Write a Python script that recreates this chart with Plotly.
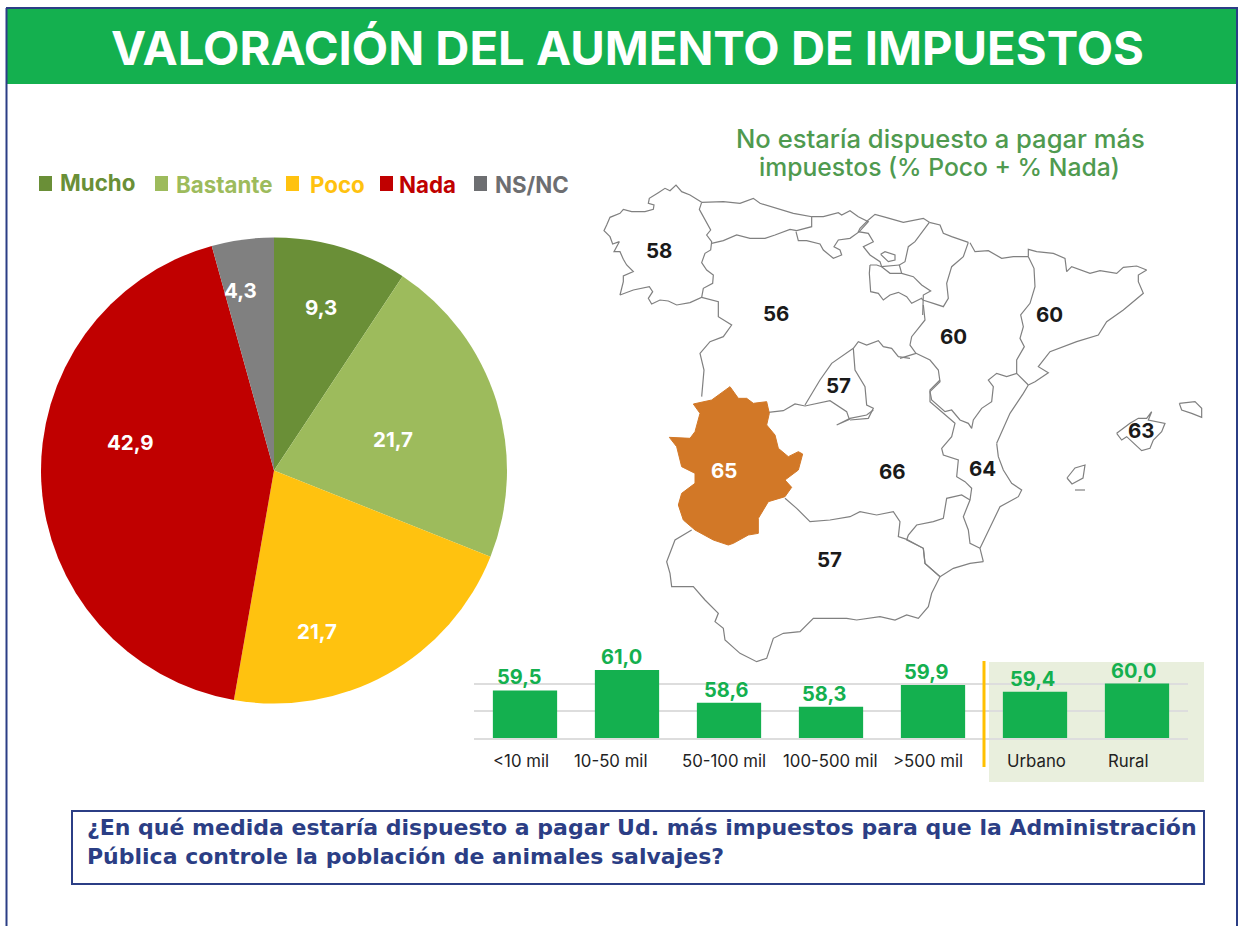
import plotly.graph_objects as go

# ---------- data ----------
pie_labels = ["Mucho", "Bastante", "Poco", "Nada", "NS/NC"]
pie_values = [9.3, 21.7, 21.7, 42.9, 4.3]
pie_text = ["9,3", "21,7", "21,7", "42,9", "4,3"]
pie_colors = ["#6A8F37", "#9DBB5C", "#FFC20F", "#C00000", "#808080"]
legend_colors = ["#6A8F37", "#9DBB5C", "#FFC20F", "#C00000", "#6D6E71"]

bar_categories = ["<10 mil", "10-50 mil", "50-100 mil", "100-500 mil", ">500 mil", "Urbano", "Rural"]
bar_values = [59.5, 61.0, 58.6, 58.3, 59.9, 59.4, 60.0]
bar_text = ["59,5", "61,0", "58,6", "58,3", "59,9", "59,4", "60,0"]

region_values = ["58", "56", "60", "60", "57", "63", "65", "66", "64", "57"]

# hand-traced map outlines, in crop frames of the picture
Z1 = (590, 170)
Z2 = (890, 210)
Z3 = (650, 380)
Z4 = (840, 205)
galicia = [(335,97),(300,75),(275,65),(258,45),(240,62),(225,55),(205,68),(178,85),(175,100),(192,105),(190,118),(165,125),(125,125),(100,118),(90,130),(60,142),(50,165),(42,182),(60,200),(68,222),(88,215),(72,245),(90,245),(100,268),(110,285),(130,305),(100,318),(100,335),(90,375),(130,360),(178,350),(188,365),(175,385),(185,402),(210,390),(235,393),(260,405),(300,398),(335,382),(340,355),(368,340),(370,315),(350,300),(335,278),(345,250),(362,240),(365,215),(350,195),(362,180),(345,150),(328,118),(335,97)]
asturias = [(335,97),(400,95),(450,100),(490,85),(510,100),(570,118),(610,130),(665,140),(665,170),(620,182),(600,178),(555,195),(525,205),(480,205),(440,195),(400,212),(365,220)]
cantabria = [(665,140),(700,140),(745,128),(755,135),(780,122),(805,140),(835,155),(815,175),(808,185),(780,205),(745,210),(732,230),(750,240),(755,255),(730,265),(700,240),(690,222),(650,212),(625,212),(618,185)]
cyl_port = [(335,382),(385,395),(385,440),(425,465),(400,500),(360,515),(330,550),(342,600),(335,680)]
madrid_a = [(645,705),(690,630),(725,580),(790,535),(795,600),(825,650),(830,705),(850,715),(835,745),(780,750)]
cyl_clm = [(790,535),(805,515),(830,525),(865,512),(880,530),(905,535),(925,560),(960,565)]

vasco_n = [(85,45),(105,28),(140,38),(190,52),(250,40),(268,52)]
navarra_n = [(268,52),(300,60),(310,85),(335,95),(385,112)]
navarra_e = [(385,112),(370,155),(335,185),(320,235),(325,280),(310,305),(280,295),(248,285)]
navarra_w = [(268,52),(225,110),(205,125),(195,170),(178,180),(185,205)]
vasco_s = [(85,45),(60,70),(55,80),(85,85),(100,110),(70,125),(90,150),(120,170),(125,185),(178,180)]
trevino = [(122,148),(135,140),(165,150),(165,165),(145,170),(122,148)]
rioja_n = [(90,180),(110,180),(125,185),(150,205),(185,205),(220,215),(245,240),(272,258),(250,270),(248,330)]
rioja_s = [(90,180),(88,205),(92,260),(115,265),(130,285),(150,270),(175,262),(200,275),(215,295),(245,280),(248,285)]

aragon_w = [(100,285),(105,330),(85,355),(65,380),(60,405),(78,430),(30,445)]
aragon_n = [(240,98),(255,125),(295,122),(335,145),(370,140),(415,140)]
aragon_e = [(415,140),(432,175),(435,230),(420,280),(392,315),(400,350),(390,385),(403,410),(380,450),(380,490)]
aragon_s = [(415,525),(380,490),(350,500),(320,490),(295,510),(310,530),(305,575),(275,595),(250,630),(245,655),(235,640),(210,630),(185,600),(165,605),(125,570),(120,545),(150,515),(145,480),(120,450),(78,430)]
catalunya = [(415,140),(415,118),(440,125),(490,130),(525,145),(530,185),(545,170),(600,190),(630,182),(680,190),(700,172),(740,168),(770,180),(745,195),(745,215),(760,250),(700,300),(650,335),(625,375),(560,395),(480,425),(445,470),(475,488),(435,515),(415,525)]
mallorca = [(680,670),(720,640),(745,625),(770,625),(785,605),(775,630),(825,640),(815,665),(790,690),(780,715),(755,722),(730,700),(710,680),(695,690),(680,670)]
menorca = [(868,580),(915,575),(935,595),(935,622),(905,610),(875,600),(868,580)]

valencia_e = [(1040,190),(1045,230),(1060,270),(1085,310),(1115,330),(1105,350),(1050,380),(1025,430),(1000,480),(990,505),(1000,545)]
valencia_c = [(1135,15),(1120,40),(1080,100),(1040,190)]
valencia_w = [(870,0),(840,30),(840,65),(885,105),(915,130),(905,170),(875,205),(880,225),(925,240),(920,290),(945,305),(965,325),(960,360),(940,410),(955,450),(960,490),(990,505)]
murcia = [(960,360),(935,345),(890,355),(880,415),(850,425),(800,435),(775,465),(770,480),(820,505),(825,550),(870,590),(910,565),(960,550),(1000,545)]
andalucia = [(405,355),(440,385),(480,425),(540,420),(600,410),(630,395),(680,405),(730,395),(750,425),(745,470),(770,478),(820,505),(825,550),(870,590),(845,640),(835,680),(805,715),(770,705),(735,720),(690,710),(620,720),(590,715),(525,715),(490,715),(450,755),(400,760),(370,775),(350,835),(320,845),(270,820),(225,780),(220,745),(195,725),(205,700),(165,660),(130,620),(65,620),(60,580),(50,545),(75,480),(125,450)]
clm_n = [(355,97),(400,92),(435,72),(465,78),(540,62),(590,95),(598,118),(560,135),(600,115),(650,105),(670,90)]
extremadura = [(58,172),(120,175),(135,155),(150,100),(130,72),(185,60),(240,20),(265,55),(290,55),(310,70),(350,65),(358,100),(350,135),(375,165),(385,205),(415,230),(445,215),(458,222),(445,270),(405,300),(425,322),(405,350),(355,365),(325,415),(325,460),(295,465),(250,490),(235,495),(190,480),(135,450),(100,420),(85,375),(95,340),(135,310),(135,280),(95,260),(80,200),(58,172)]

z1_lines = [galicia, asturias, cantabria, cyl_port, madrid_a, cyl_clm]
z2_lines = [aragon_w, aragon_n, aragon_e, aragon_s, catalunya, mallorca, menorca]
z3_lines = [valencia_e, valencia_c, valencia_w, murcia, andalucia, clm_n]
z4_lines = [vasco_n, navarra_n, navarra_e, navarra_w, vasco_s, trevino, rioja_n, rioja_s]

# ---------- layout constants ----------
W, H = 1239, 926
NAVY = "#2B3E85"
GREEN = "#14B04F"
FONT = "Inter"
OUT = "#808080"

fig = go.Figure()


def px(pts, origin):
    return ([origin[0] + p[0] / 3 for p in pts], [origin[1] + p[1] / 3 for p in pts])


for frame, lines in ((Z1, z1_lines), (Z2, z2_lines), (Z3, z3_lines), (Z4, z4_lines)):
    for line in lines:
        xs, ys = px(line, frame)
        fig.add_trace(go.Scatter(x=xs, y=ys, mode="lines", xaxis="x", yaxis="y", showlegend=False,
                                 hoverinfo="skip", line=dict(color=OUT, width=1.2)))
xs, ys = px(extremadura, Z3)
fig.add_trace(go.Scatter(x=xs, y=ys, mode="lines", fill="toself", fillcolor="#D27827",
                         xaxis="x", yaxis="y", showlegend=False, hoverinfo="skip",
                         line=dict(color="#D27827", width=1)))
ibiza = [(1067, 478), (1075, 468), (1085, 465), (1083, 478), (1072, 484), (1067, 478)]
formentera = [(1075, 490), (1085, 490)]
for isl in (ibiza, formentera):
    fig.add_trace(go.Scatter(x=[p[0] for p in isl], y=[p[1] for p in isl], mode="lines", xaxis="x", yaxis="y",
                             showlegend=False, hoverinfo="skip", line=dict(color=OUT, width=1.2)))

# pie
fig.add_trace(go.Pie(labels=pie_labels, values=pie_values, textinfo="none",
                     sort=False, direction="clockwise", rotation=0, showlegend=False,
                     marker=dict(colors=pie_colors, line=dict(width=0)),
                     domain=dict(x=[41 / W, 507 / W], y=[1 - 704 / H, 1 - 237 / H])))

# bars
fig.add_trace(go.Bar(x=bar_categories, y=bar_values, xaxis="x2", yaxis="y2", width=0.63,
                     marker=dict(color=GREEN, line=dict(width=0)), showlegend=False))

shapes = [
    dict(type="rect", xref="x", yref="y", x0=989, x1=1204, y0=662, y1=782, fillcolor="#E9EFDD", line_width=0, layer="below"),
    dict(type="rect", xref="x", yref="y", x0=7, x1=1236, y0=9, y1=84, fillcolor=GREEN, line_width=0, layer="below"),
    dict(type="line", xref="x", yref="y", x0=984, x1=984, y0=661, y1=767, line=dict(color="#FFC000", width=3)),
    dict(type="line", xref="x", yref="y", x0=6.5, x1=6.5, y0=8, y1=926, line=dict(color=NAVY, width=2)),
    dict(type="line", xref="x", yref="y", x0=1237, x1=1237, y0=8, y1=926, line=dict(color=NAVY, width=2)),
    dict(type="line", xref="x", yref="y", x0=6, x1=1238, y0=8, y1=8, line=dict(color=NAVY, width=2)),
    dict(type="rect", xref="x", yref="y", x0=72, x1=1204, y0=811, y1=884, line=dict(color=NAVY, width=2)),
]

ann = []


def text(x, y, s, size, color, anchor="center", weight=700, family=FONT):
    ann.append(dict(x=x, y=y, xref="x", yref="y", text=s, showarrow=False, xanchor=anchor, yanchor="middle",
                    font=dict(family=family, size=size, color=color, weight=weight)))


text(627, 47, "VALORACIÓN DEL AUMENTO DE IMPUESTOS", 47.2, "white")
text(940, 138, "No estaría dispuesto a pagar más", 25.6, "#4F9A4F", weight=500)
text(939, 167, "impuestos (% Poco + % Nada)", 24.7, "#4F9A4F", weight=500)
text(85, 827, "¿En qué medida estaría dispuesto a pagar Ud. más impuestos para que la Administración", 22, NAVY,
     anchor="left", family="DejaVu Sans")
text(85, 856, "Pública controle la población de animales salvajes?", 22, NAVY, anchor="left", family="DejaVu Sans")

legend_sq = [39, 155, 286, 380, 474]
legend_tx = [58, 174, 308, 397, 493]
legend_y = [182, 184, 184, 184, 184]
for lab, col, sq, tx, ly in zip(pie_labels, legend_colors, legend_sq, legend_tx, legend_y):
    shapes.append(dict(type="rect", xref="x", yref="y", x0=sq, x1=sq + 13, y0=176, y1=191, fillcolor=col, line_width=0))
    text(tx, ly, lab, 22.3, col, anchor="left")

pie_label_x = [321, 393, 317, 130, 240]
pie_label_y = [307, 439, 631, 442, 290]
for t, x, y in zip(pie_text, pie_label_x, pie_label_y):
    text(x, y, t, 20.5, "white")

region_x = [659, 776, 953, 1049, 838, 1141, 724, 892, 982, 829]
region_y = [250, 313, 336, 314, 385, 430, 470, 471, 468, 559]
for v, x, y in zip(region_values, region_x, region_y):
    text(x, y, v, 20.5, "white" if v == "65" else "#1A1A1A")

value_shift = [-6, -6, -3, -7, -7, -3, -4]
for c, v, t, s in zip(bar_categories, bar_values, bar_text, value_shift):
    ann.append(dict(x=c, y=v, xref="x2", yref="y2", text=t, showarrow=False, yanchor="bottom", xshift=s, yshift=-1,
                    font=dict(family=FONT, size=20, color=GREEN, weight=700)))
tick_shift = [-4, -17, -5, -1, -5, 1, -9]
for c, s in zip(bar_categories, tick_shift):
    ann.append(dict(x=c, y=0, xref="x2", yref="y2 domain", text=c.replace("<", "&lt;"), showarrow=False, yanchor="top",
                    xshift=s, yshift=-11, font=dict(family=FONT, size=16.8, color="#222222", weight=400)))

fig.update_layout(
    width=W, height=H, margin=dict(l=0, r=0, t=0, b=0), paper_bgcolor="white", plot_bgcolor="rgba(0,0,0,0)",
    autosize=False, shapes=shapes, annotations=ann, bargap=0.37,
    xaxis=dict(domain=[0, 1], range=[0, W], visible=False, fixedrange=True),
    yaxis=dict(domain=[0, 1], range=[H, 0], visible=False, fixedrange=True),
    xaxis2=dict(domain=[474 / W, 1188 / W], anchor="y2", type="category", categoryorder="array",
                categoryarray=bar_categories, showticklabels=False, showgrid=False, zeroline=False, ticks="",
                showline=True, linecolor="#DDDDDD", linewidth=2),
    yaxis2=dict(domain=[1 - 738 / H, 1 - (738 - 6 * 13.6) / H], anchor="x2", range=[56, 62], tickvals=[56, 58, 60],
                showticklabels=False, showgrid=True, gridcolor="#DDDDDD", gridwidth=2, zeroline=False),
)

fig.write_html("out.html", config=dict(displayModeBar=False),
               post_script="document.body.style.margin='0';document.body.style.overflow='hidden';")
